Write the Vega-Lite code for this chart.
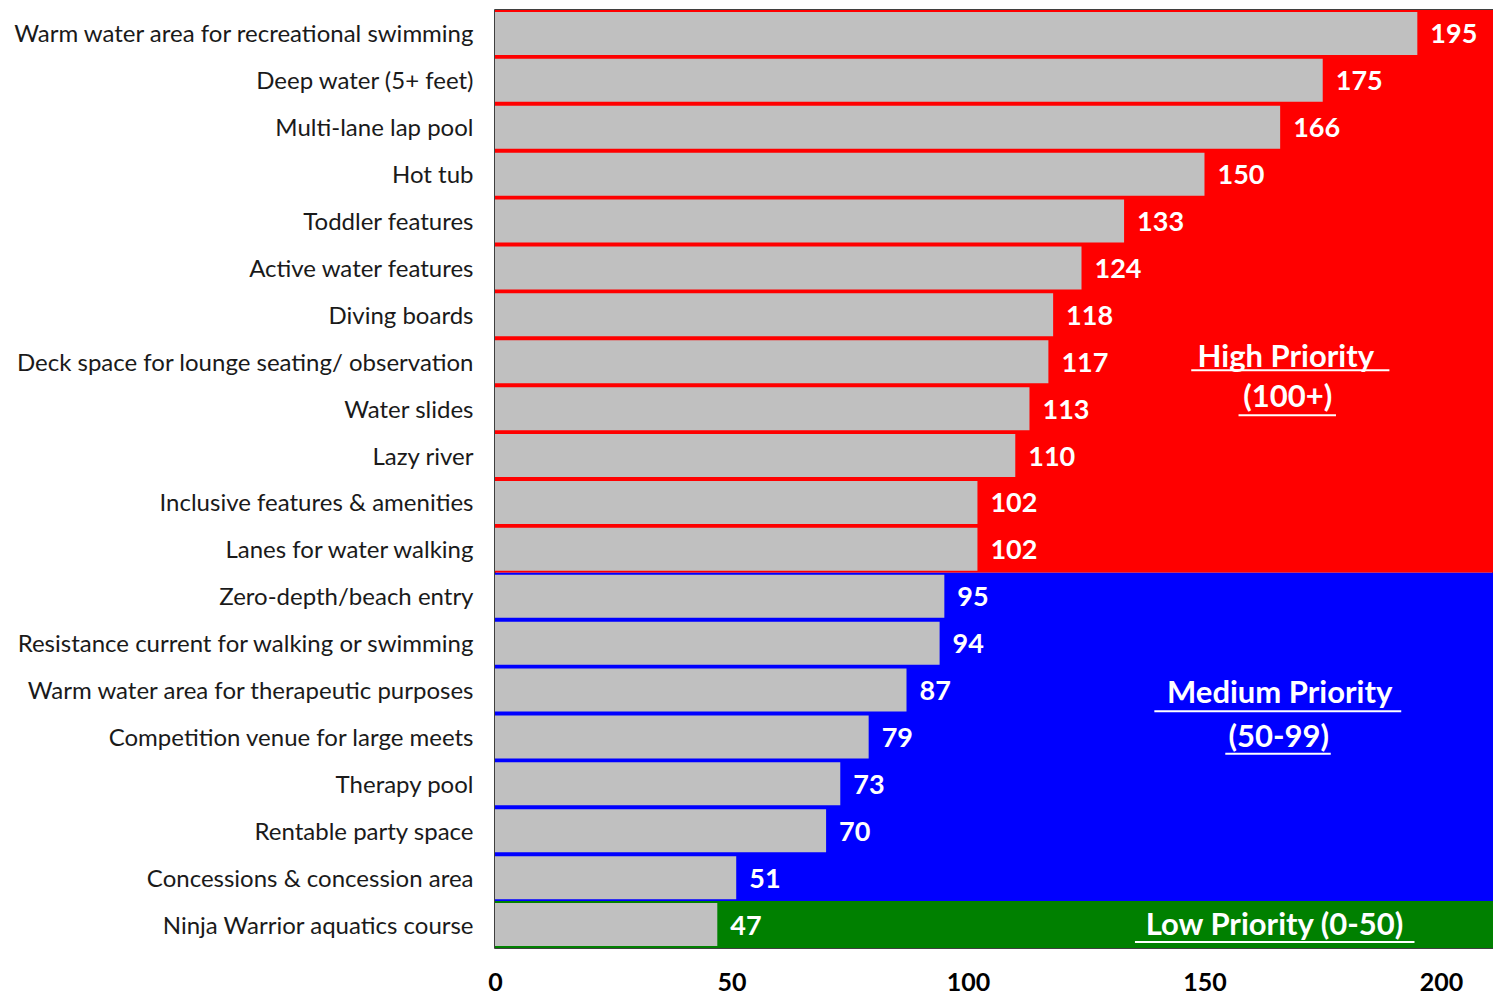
{
  "$schema": "https://vega.github.io/schema/vega-lite/v6.json",
  "width": 998,
  "height": 938,
  "autosize": {"type": "none"},
  "padding": {"left": 495, "top": 10, "right": 0, "bottom": 46},
  "background": "white",
  "config": {
    "view": {"stroke": "#000000", "strokeWidth": 1.5},
    "font": "Lato"
  },
  "datasets": {
    "items": [
      {"feature": "Warm water area for recreational swimming", "votes": 195},
      {"feature": "Deep water (5+ feet)", "votes": 175},
      {"feature": "Multi-lane lap pool", "votes": 166},
      {"feature": "Hot tub", "votes": 150},
      {"feature": "Toddler features", "votes": 133},
      {"feature": "Active water features", "votes": 124},
      {"feature": "Diving boards", "votes": 118},
      {"feature": "Deck space for lounge seating/ observation", "votes": 117},
      {"feature": "Water slides", "votes": 113},
      {"feature": "Lazy river", "votes": 110},
      {"feature": "Inclusive features & amenities", "votes": 102},
      {"feature": "Lanes for water walking", "votes": 102},
      {"feature": "Zero-depth/beach entry", "votes": 95},
      {"feature": "Resistance current for walking or swimming", "votes": 94},
      {"feature": "Warm water area for therapeutic purposes", "votes": 87},
      {"feature": "Competition venue for large meets", "votes": 79},
      {"feature": "Therapy pool", "votes": 73},
      {"feature": "Rentable party space", "votes": 70},
      {"feature": "Concessions & concession area", "votes": 51},
      {"feature": "Ninja Warrior aquatics course", "votes": 47}
    ],
    "bands": [
      {"priority": "High", "rowStart": 0, "rowEnd": 12},
      {"priority": "Medium", "rowStart": 12, "rowEnd": 19},
      {"priority": "Low", "rowStart": 19, "rowEnd": 20}
    ],
    "notes": [
      {"text": "High Priority", "x": 167.2, "row": 7.61, "ux1": 147.2, "ux2": 189.1, "urow": 7.68},
      {"text": "(100+)", "x": 167.6, "row": 8.47, "ux1": 157.2, "ux2": 177.8, "urow": 8.64},
      {"text": "Medium Priority", "x": 165.9, "row": 14.78, "ux1": 139.4, "ux2": 191.6, "urow": 14.95},
      {"text": "(50-99)", "x": 165.7, "row": 15.71, "ux1": 154.4, "ux2": 176.7, "urow": 15.86},
      {"text": "Low Priority (0-50)", "x": 164.8, "row": 19.72, "ux1": 135.3, "ux2": 194.4, "urow": 19.87}
    ]
  },
  "resolve": {"scale": {"y": "independent"}, "axis": {"y": "independent"}},
  "layer": [
    {
      "layer": [
        {
          "data": {"name": "bands"},
          "mark": {"type": "rect"},
          "encoding": {
            "y": {"field": "rowStart", "type": "quantitative", "scale": {"domain": [0, 20], "reverse": true, "nice": false, "zero": false}, "axis": null},
            "y2": {"field": "rowEnd"},
            "color": {"field": "priority", "type": "nominal", "scale": {"domain": ["High", "Medium", "Low"], "range": ["#FF0000", "#0000FF", "#008000"]}, "legend": null}
          }
        },
        {
          "data": {"name": "notes"},
          "mark": {"type": "text", "font": "Lato", "fontSize": 31, "fontWeight": "bold", "color": "white", "align": "center", "baseline": "alphabetic"},
          "encoding": {
            "x": {"field": "x", "type": "quantitative"},
            "y": {"field": "row", "type": "quantitative"},
            "text": {"field": "text"}
          }
        },
        {
          "data": {"name": "notes"},
          "mark": {"type": "rule", "color": "white", "strokeWidth": 2},
          "encoding": {
            "x": {"field": "ux1", "type": "quantitative"},
            "x2": {"field": "ux2"},
            "y": {"field": "urow", "type": "quantitative"}
          }
        }
      ]
    },
    {
      "data": {"name": "items"},
      "encoding": {
        "y": {
          "field": "feature", "type": "nominal", "sort": null,
          "scale": {"paddingInner": 0.083, "paddingOuter": 0.0415},
          "axis": {"orient": "left", "title": null, "ticks": false, "domain": false, "labelFont": "Lato", "labelFontSize": 24, "labelColor": "#1a1a1a", "labelPadding": 22, "labelOffset": 2, "labelLimit": 600}
        },
        "x": {
          "field": "votes", "type": "quantitative",
          "scale": {"domain": [0, 211], "nice": false},
          "axis": {"title": null, "values": [0, 50, 100, 150, 200], "grid": false, "ticks": false, "domain": false, "labelFont": "Lato", "labelFontSize": 25, "labelFontWeight": "bold", "labelColor": "#000000", "labelPadding": 22, "labelFlush": false}
        }
      },
      "layer": [
        {"mark": {"type": "bar", "color": "#C0C0C0"}},
        {
          "mark": {"type": "text", "align": "left", "baseline": "middle", "dx": 13, "dy": 2, "font": "Lato", "fontSize": 27, "fontWeight": "bold", "color": "white"},
          "encoding": {"text": {"field": "votes", "type": "quantitative"}}
        }
      ]
    }
  ]
}
